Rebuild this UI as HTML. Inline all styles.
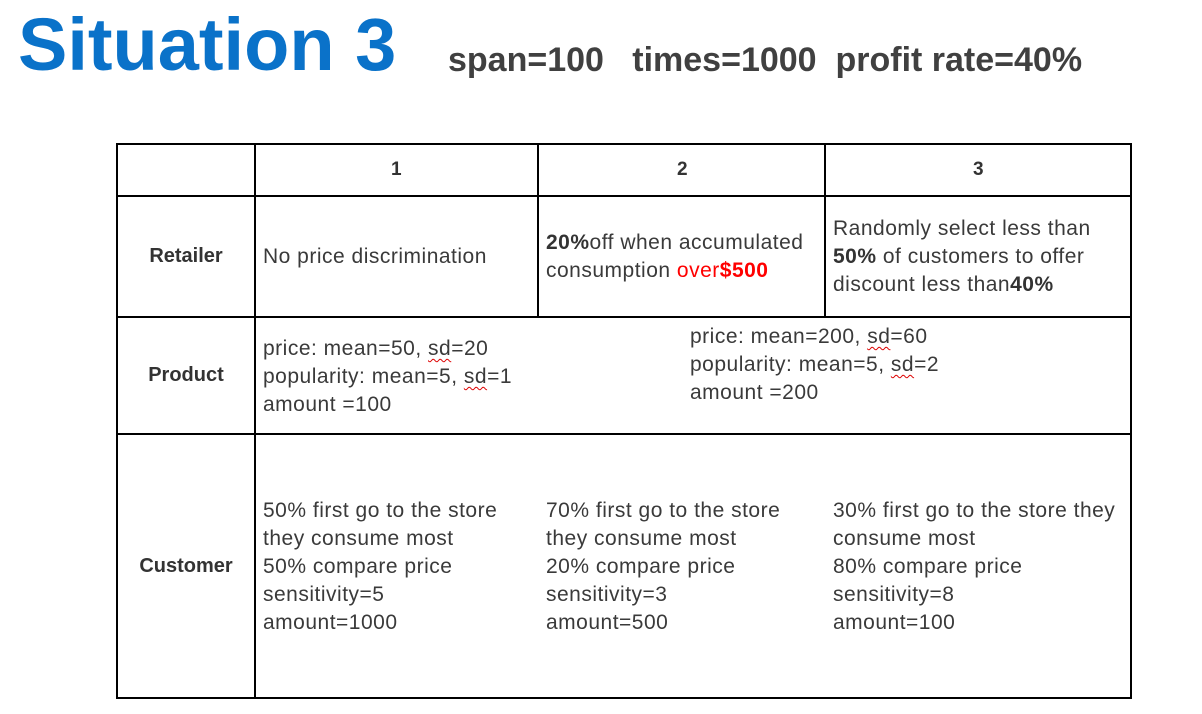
<!DOCTYPE html>
<html><head><meta charset="utf-8"><style>
body{margin:0;width:1202px;height:714px;background:#fff;position:relative;overflow:hidden;font-family:"Liberation Sans","DejaVu Sans",sans-serif;color:#3a3a3a}
.a{position:absolute;white-space:nowrap}
.t{font-size:21px;line-height:28px;letter-spacing:0.5px}
.h{position:absolute;background:#000}
.lbl{font-weight:bold;font-size:20px;width:138px;text-align:center;left:117px;color:#333}
.num{font-weight:bold;font-size:19px;color:#333}
.w{text-decoration:underline wavy #d00;text-decoration-thickness:1px;text-underline-offset:3px}
b{color:#333}
</style></head><body>
<div class="a" style="left:18px;top:0px;font-size:74px;font-weight:bold;color:#0a72c9;line-height:90px">Situation 3</div>
<div class="a" style="left:448px;top:38px;font-size:34px;font-weight:bold;color:#404040;line-height:44px">span=100&nbsp;&nbsp; times=1000&nbsp; profit rate=40%</div>

<div>
<div class="h" style="left:116px;top:143px;width:1016px;height:2px"></div>
<div class="h" style="left:116px;top:195px;width:1016px;height:2px"></div>
<div class="h" style="left:116px;top:316px;width:1016px;height:2px"></div>
<div class="h" style="left:116px;top:433px;width:1016px;height:2px"></div>
<div class="h" style="left:116px;top:697px;width:1016px;height:2px"></div>
<div class="h" style="left:116px;top:143px;width:2px;height:556px"></div>
<div class="h" style="left:254px;top:143px;width:2px;height:556px"></div>
<div class="h" style="left:1130px;top:143px;width:2px;height:556px"></div>
<div class="h" style="left:537px;top:143px;width:2px;height:175px"></div>
<div class="h" style="left:824px;top:143px;width:2px;height:175px"></div>

<div class="a num" style="left:391px;top:159px">1</div>
<div class="a num" style="left:677px;top:159px">2</div>
<div class="a num" style="left:973px;top:159px">3</div>

<div class="a lbl" style="top:245px">Retailer</div>
<div class="a lbl" style="top:364px">Product</div>
<div class="a lbl" style="top:555px">Customer</div>

<div class="a t" style="left:263px;top:243px">No price discrimination</div>
<div class="a t" style="left:546px;top:229px"><b>20%</b>off when accumulated<br>consumption <span style="color:#f00">over<b style="color:#f00">$500</b></span></div>
<div class="a t" style="left:833px;top:215px">Randomly select less than<br><b>50%</b> of customers to offer<br>discount less than<b>40%</b></div>

<div class="a t" style="left:263px;top:335px">price: mean=50, <span class="w">sd</span>=20<br>popularity: mean=5, <span class="w">sd</span>=1<br>amount =100</div>
<div class="a t" style="left:690px;top:323px">price: mean=200, <span class="w">sd</span>=60<br>popularity: mean=5, <span class="w">sd</span>=2<br>amount =200</div>

<div class="a t" style="left:263px;top:497px">50% first go to the store<br>they consume most<br>50% compare price<br>sensitivity=5<br>amount=1000</div>
<div class="a t" style="left:546px;top:497px">70% first go to the store<br>they consume most<br>20% compare price<br>sensitivity=3<br>amount=500</div>
<div class="a t" style="left:833px;top:497px">30% first go to the store they<br>consume most<br>80% compare price<br>sensitivity=8<br>amount=100</div>
</div>
</body></html>
